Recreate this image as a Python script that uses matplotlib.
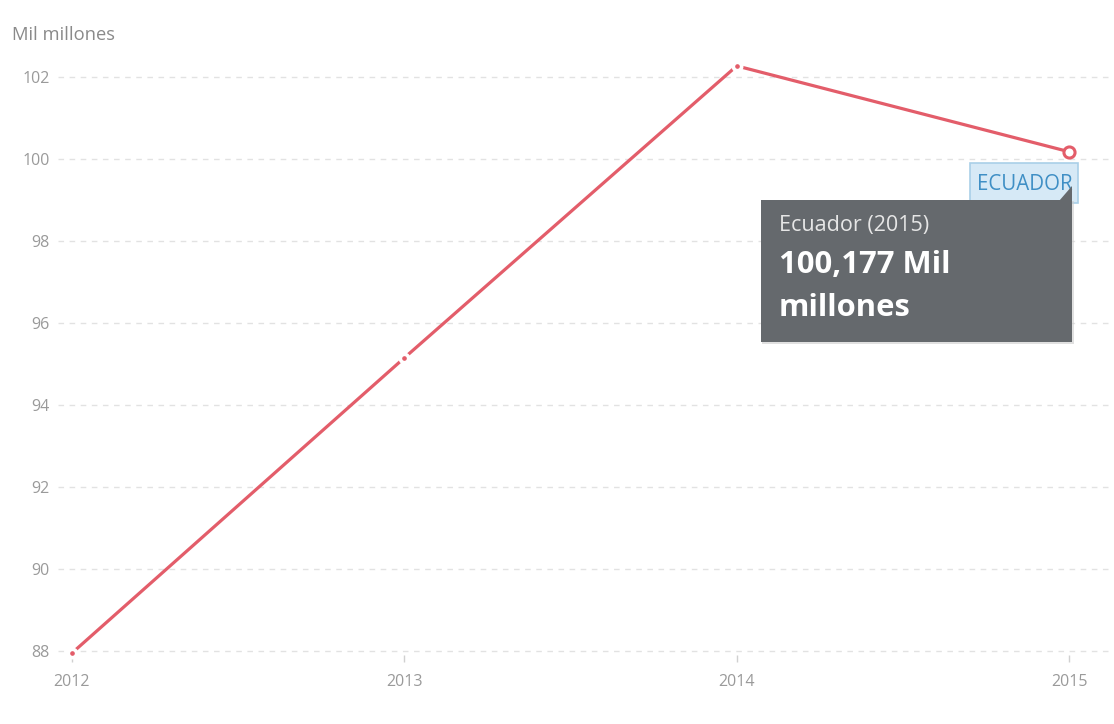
import matplotlib
matplotlib.use("Agg")
import matplotlib.pyplot as plt
from matplotlib.patches import Rectangle, Polygon

plt.rcParams['font.family'] = ['Open Sans', 'DejaVu Sans']

years = [2012, 2013, 2014, 2015]
values = [87.95, 95.15, 102.27, 100.177]
y_ticks = [88, 90, 92, 94, 96, 98, 100, 102]
unit_label = "Mil millones"
series_name = "ECUADOR"
tooltip_title = "Ecuador (2015)"
tooltip_value = "100,177 Mil\nmillones"

W, H = 1114, 724
fig = plt.figure(figsize=(W / 100, H / 100), dpi=100)
fig.patch.set_facecolor('white')

def fx(px):
    return px / W

def fy(py):
    return 1 - py / H

ax_l, ax_r, ax_t, ax_b = 58, 1110, 60, 655
ax = fig.add_axes([fx(ax_l), fy(ax_b), fx(ax_r - ax_l), (ax_b - ax_t) / H])
ax.set_xlim(2011.958, 2015.123)
ax.set_ylim(88 - 4 / 41, 88 + 591 / 41)

line_color = '#e35d6a'
ax.plot(years, values, color=line_color, lw=2.3, zorder=3, solid_capstyle='round', clip_on=False)
ax.plot(years[:-1], values[:-1], 'o', ms=6, color=line_color, mec='white', mew=2.6, zorder=4, clip_on=False)
ax.plot(years[-1:], values[-1:], 'o', ms=8, mfc='white', mec=line_color, mew=2.2, zorder=5, clip_on=False)

ax.set_yticks(y_ticks)
ax.set_yticklabels([str(v) for v in y_ticks])
ax.set_xticks(years)
ax.set_xticklabels([str(y) for y in years])
ax.grid(axis='y', color='#e2e2e2', lw=1, ls=(0, (4, 4)))
ax.grid(axis='x', visible=False)
for s in ax.spines.values():
    s.set_visible(False)
ax.tick_params(axis='y', length=0, pad=6, labelsize=11.5, labelcolor='#9a9a9a')
ax.tick_params(axis='x', length=5, width=1, color='#d0d0d0', pad=9, labelsize=11.5, labelcolor='#9a9a9a')
ax.set_axisbelow(True)

fig.text(fx(12), fy(35), unit_label, fontsize=13.2, color='#8a8a8a', va='center', ha='left')

# series label box
lab = Rectangle((fx(970), fy(203)), fx(1078 - 970), (203 - 163) / H, transform=fig.transFigure,
                facecolor='#d6e9f6', edgecolor='#a9cfe8', lw=1.2, zorder=6)
fig.add_artist(lab)
fig.text(fx(1025), fy(184), series_name, fontsize=14.8, color='#3f8fc5', ha='center', va='center', zorder=7)

# tooltip
shadow = Rectangle((fx(762), fy(344)), fx(1074 - 762), (344 - 201) / H, transform=fig.transFigure,
                   facecolor='#cccccc', edgecolor='none', zorder=7, alpha=0.6)
fig.add_artist(shadow)
tip = Rectangle((fx(761), fy(342)), fx(1072 - 761), (342 - 200) / H, transform=fig.transFigure,
                facecolor='#65696d', edgecolor='none', zorder=8)
fig.add_artist(tip)
tri = Polygon([(fx(1059), fy(201)), (fx(1072), fy(201)), (fx(1072), fy(186))], closed=True,
              transform=fig.transFigure, facecolor='#65696d', edgecolor='none', zorder=8)
fig.add_artist(tri)
fig.text(fx(779), fy(226), tooltip_title, fontsize=15.5, color='#e6e6e6', ha='left', va='center', zorder=9)
fig.text(fx(779), fy(265), "100,177 Mil", fontsize=22.3, color='white', fontweight='bold',
         ha='left', va='center', zorder=9)
fig.text(fx(779), fy(308), "millones", fontsize=22.3, color='white', fontweight='bold',
         ha='left', va='center', zorder=9)

fig.savefig('out.png', dpi=100, facecolor='white')
